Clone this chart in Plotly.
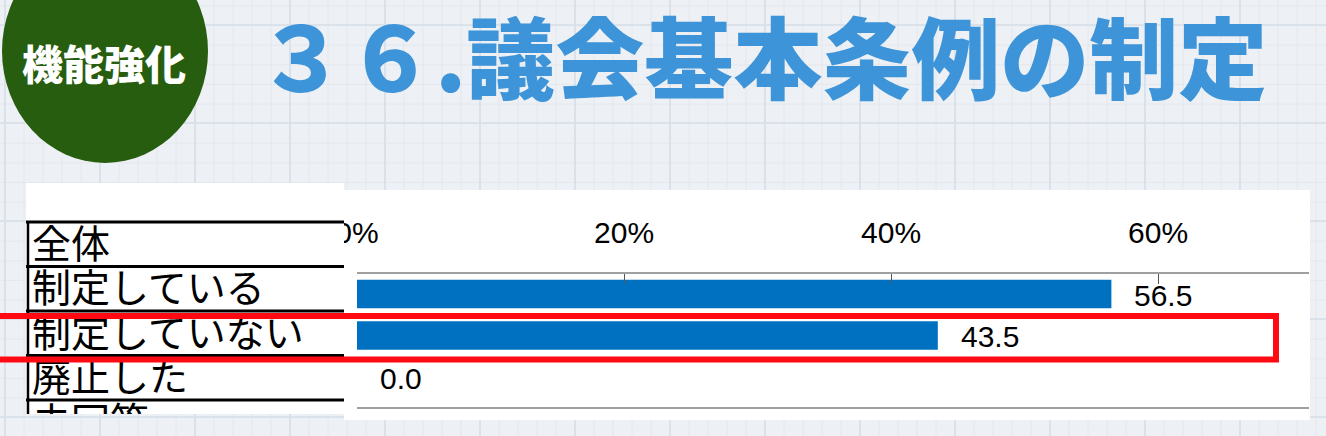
import numpy as np
import plotly.graph_objects as go

W, H = 1326, 436

# ---- data ----
categories = ["制定している", "制定していない", "廃止した"]
values = [56.5, 43.5, 0.0]
table_labels = ["全体", "制定している", "制定していない", "廃止した", "未回答"]
tick_values = [0, 20, 40, 60]
tick_labels = ["0%", "20%", "40%", "60%"]
title_text = "３６.議会基本条例の制定"
badge_text = "機能強化"


def px(x):
    return x / W


def py(y):
    return 1 - y / H


JP = "Noto Sans CJK JP"
LAT = "Liberation Sans"
BG = "#EDF0F4"

fig = go.Figure()

fig.add_trace(go.Bar(
    x=values, y=categories, orientation="h",
    marker=dict(color="#0070C0", line=dict(width=0)),
    width=0.69, xaxis="x", yaxis="y", hoverinfo="skip", showlegend=False,
))

fig.add_trace(go.Scatter(
    x=[6] * len(table_labels), y=table_labels, mode="text", text=table_labels,
    textposition="middle right",
    textfont=dict(family=JP, size=39, color="black"),
    xaxis="x2", yaxis="y2", cliponaxis=True, hoverinfo="skip", showlegend=False,
))

shapes = []
# background graph-paper grid (decoration)
for x in np.arange(5, W, 19):
    shapes.append(dict(type="line", xref="paper", yref="paper", x0=px(x), x1=px(x), y0=0, y1=1,
                       line=dict(color="#E4E8EE", width=1), layer="below"))
for y in np.arange(6, H, 19.6):
    shapes.append(dict(type="line", xref="paper", yref="paper", x0=0, x1=1, y0=py(y), y1=py(y),
                       line=dict(color="#E4E8EE", width=1), layer="below"))
for x in np.arange(5, W, 95):
    shapes.append(dict(type="line", xref="paper", yref="paper", x0=px(x), x1=px(x), y0=0, y1=1,
                       line=dict(color="#D6DEE7", width=1.5), layer="below"))
for y in np.arange(25, H, 98):
    shapes.append(dict(type="line", xref="paper", yref="paper", x0=0, x1=1, y0=py(y), y1=py(y),
                       line=dict(color="#D6DEE7", width=1.5), layer="below"))

# white panels
shapes.append(dict(type="rect", xref="paper", yref="paper", x0=px(344), x1=px(1310), y0=py(420), y1=py(190),
                   fillcolor="white", line=dict(width=0), layer="below"))
shapes.append(dict(type="rect", xref="paper", yref="paper", x0=px(26), x1=px(344), y0=py(414), y1=py(183),
                   fillcolor="white", line=dict(width=0), layer="below"))
# green badge
shapes.append(dict(type="circle", xref="paper", yref="paper", x0=px(2), x1=px(208), y0=py(163), y1=py(-61),
                   fillcolor="#275D0E", line=dict(width=0), layer="below"))

# cover for the clipped "0%" label (table panel overlaps it)
shapes.append(dict(type="rect", xref="paper", yref="paper", x0=px(326), x1=px(344), y0=py(263), y1=py(220),
                   fillcolor="white", line=dict(width=0), layer="above"))

# table lines (row boundaries, in table-axis units)
row0, step = 248.0, 44.5
edge = (222.0 - row0) / step
for i in range(len(table_labels) + 1):
    shapes.append(dict(type="line", xref="paper", yref="y2", x0=px(26), x1=px(344), y0=i + edge, y1=i + edge,
                       line=dict(color="black", width=3), layer="above"))
shapes.append(dict(type="line", xref="paper", yref="y2", x0=px(28), x1=px(28), y0=edge,
                   y1=len(table_labels) + edge, line=dict(color="black", width=2.5), layer="above"))

# red highlight rectangle
shapes.append(dict(type="rect", xref="paper", yref="paper", x0=px(-10), x1=px(1276), y0=py(359.5), y1=py(316),
                   line=dict(color="#FF0A12", width=6), fillcolor="rgba(0,0,0,0)", layer="above"))

annotations = []
for c, v in zip(categories, values):
    annotations.append(dict(x=v, y=c, xref="x", yref="y", text=f"{v:.1f}", showarrow=False,
                            xanchor="left", yanchor="middle", xshift=21, yshift=-1,
                            font=dict(family=LAT, size=30, color="black")))
annotations.append(dict(x=px(762), y=py(53), xref="paper", yref="paper", text=title_text, showarrow=False,
                        xanchor="center", yanchor="middle",
                        font=dict(family=JP, size=89, color="#3E94D8", weight=900)))
annotations.append(dict(x=px(104), y=py(62), xref="paper", yref="paper", text=badge_text, showarrow=False,
                        xanchor="center", yanchor="middle",
                        font=dict(family=JP, size=41, color="white", weight=900)))

fig.update_layout(
    template="none",
    width=W, height=H,
    margin=dict(l=0, r=0, t=0, b=0, pad=0, autoexpand=False),
    paper_bgcolor=BG,
    plot_bgcolor="rgba(0,0,0,0)",
    showlegend=False,
    shapes=shapes,
    annotations=annotations,
    xaxis=dict(
        domain=[px(357), px(1309)], range=[0, 71.3], side="top", anchor="y",
        tickvals=tick_values, ticktext=tick_labels,
        ticks="inside", ticklen=10, tickcolor="#555555", tickwidth=1,
        showline=True, linecolor="#A0A0A0", linewidth=2, mirror=True,
        showgrid=False, zeroline=False, ticklabelstandoff=17, automargin=False,
        tickfont=dict(family=LAT, size=30, color="black"),
        fixedrange=True,
    ),
    yaxis=dict(
        domain=[py(407), py(274)], type="category", categoryorder="array", categoryarray=categories,
        range=[(407 - 294) / 41.5, (274 - 294) / 41.5], anchor="x", automargin=False,
        showticklabels=False, showgrid=False, zeroline=False, showline=False, ticks="",
        fixedrange=True,
    ),
    xaxis2=dict(domain=[px(26), px(344)], range=[0, 318], visible=False, anchor="y2",
                automargin=False, fixedrange=True),
    yaxis2=dict(
        domain=[py(414), py(183)], type="category", categoryorder="array", categoryarray=table_labels,
        range=[(414 - row0) / step, (183 - row0) / step], visible=False, anchor="x2",
        automargin=False, fixedrange=True,
    ),
)

fig.write_html(
    "out.html",
    config={"displayModeBar": False},
    post_script="document.body.style.margin='0';document.body.style.overflow='hidden';"
                "document.body.style.background='" + BG + "';",
)
